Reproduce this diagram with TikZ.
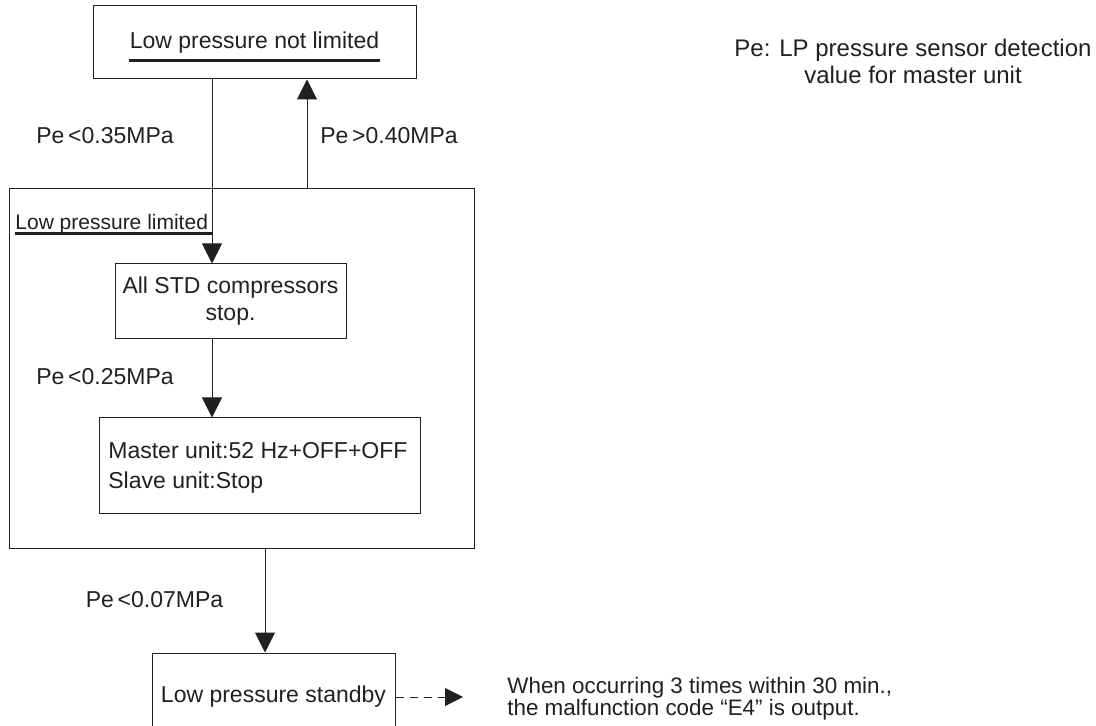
\documentclass[tikz,border=0pt]{standalone}
\usepackage{fontspec}
\setmainfont{Liberation Sans}
\usetikzlibrary{positioning, arrows.meta}
\definecolor{ink}{HTML}{231F20}

\begin{document}
\begin{tikzpicture}[
        x=0.5pt, y=-0.5pt,
        every node/.style={text=ink, font=\fontsize{11.5}{13.5}\selectfont},
        box/.style={draw=ink, line width=0.5pt, rectangle, inner sep=0pt},
        lbl/.style={inner sep=0pt},
        uline/.style={draw=ink, line width=1.5pt},
        arrow/.style={-{Triangle[width=10pt, length=10pt]}, draw=ink, line width=0.5pt},
        dasharrow/.style={arrow, dash pattern=on 4pt off 3pt, -{Triangle[width=9pt, length=9pt]}}
    ]

    \useasboundingbox (0,0) rectangle (1096,726);
    \clip (0,0) rectangle (1096,726);

    \node[box, minimum width=161.5pt, minimum height=36.5pt] (notlim) at (254.5,42.5) {};
    \node[lbl] (notlimtxt) at (notlim.center) {Low pressure not limited};
    \node[align=center, font=\fontsize{12}{13.5}\selectfont] (legend) at (913,61.5) {Pe: LP pressure sensor detection\\value for master unit};

    \node[box, minimum width=232.5pt, minimum height=179.5pt] (limited) at (241.5,368.5) {};
    \node[lbl, anchor=west, font=\fontsize{10.5}{12}\selectfont] (limitedtxt) at (15,224) {Low pressure limited};
    \node[box, minimum width=115.5pt, minimum height=37.5pt, align=center] (stop) at (230.5,301.5) {All STD compressors\\stop.};
    \node[box, minimum width=160.5pt, minimum height=47.5pt] (master) at (259.5,465.5) {};
    \node[lbl, anchor=west, align=left] (mastertxt) at (108,468) {Master unit:52 Hz+OFF+OFF\\[1.5pt]Slave unit:Stop};

    \node[box, minimum width=121.5pt, minimum height=44pt] (standby) at (273.5,697) {Low pressure standby};
    \node[lbl, anchor=west, align=left, font=\fontsize{11.2}{11}\selectfont] (note) at (507,699) {When occurring 3 times within 30 min.,\\the malfunction code “E4” is output.};

    \node (c035) at (105,136) {Pe\,<0.35MPa};
    \node (c040) at (389,136) {Pe\,>0.40MPa};
    \node (c025) at (105,377) {Pe\,<0.25MPa};
    \node (c007) at (154.5,600) {Pe\,<0.07MPa};

    \coordinate (down) at (212,0);
    \coordinate (up) at (307,0);
    \coordinate (out) at (265,0);

    \draw[uline] ([yshift=-6pt]notlimtxt.base west) -- ([yshift=-6pt]notlimtxt.base east);
    \draw[uline] ([yshift=-2pt]limitedtxt.base west) -- ([xshift=2pt, yshift=-2pt]limitedtxt.base east);

    \draw[arrow] (notlim.south -| down) -- (stop.north -| down);
    \draw[arrow] (limited.north -| up) -- (notlim.south -| up);
    \draw[arrow] (stop.south -| down) -- (master.north -| down);
    \draw[arrow] (limited.south -| out) -- (standby.north -| out);
    \draw[dasharrow] (standby.east) -- ([xshift=-22pt]note.west |- standby.east);

\end{tikzpicture}
\end{document}
